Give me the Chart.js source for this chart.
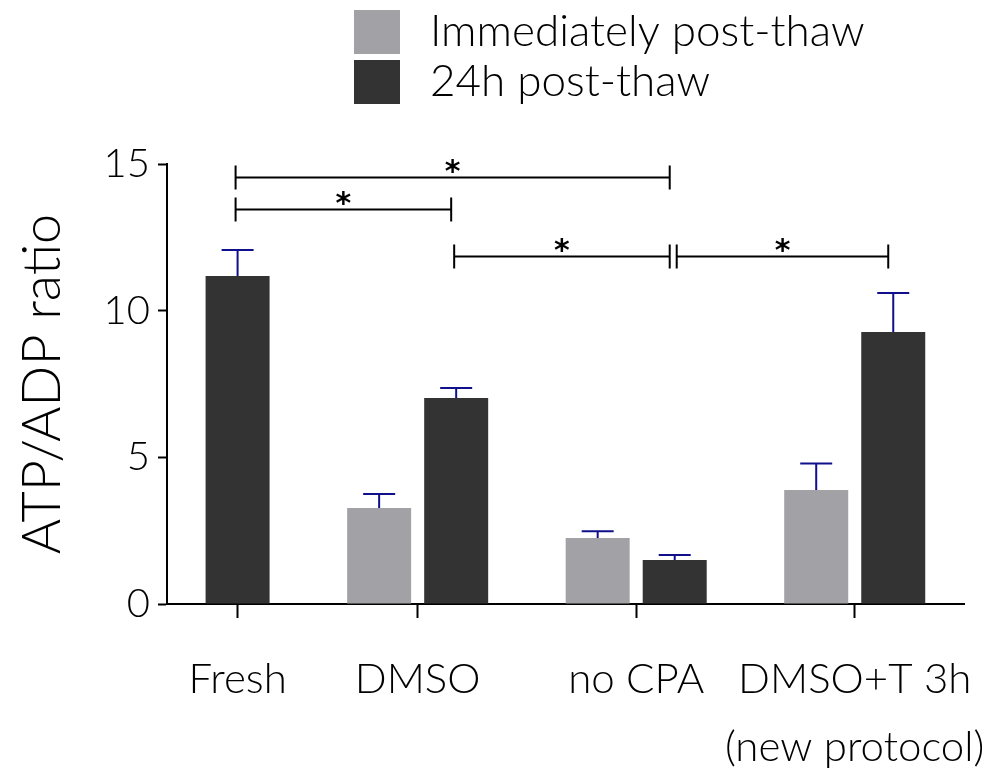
<!DOCTYPE html>
<html>
<head>
<meta charset="utf-8">
<script src="https://cdn.jsdelivr.net/npm/chart.js@4/dist/chart.umd.min.js"></script>
<style>
  html, body { margin: 0; padding: 0; background: #fff; }
</style>
</head>
<body>
<canvas id="atpChart" width="984" height="768"></canvas>
<script>
const groups = ['Fresh', 'DMSO', 'no CPA', ['DMSO+T 3h', '(new protocol)']];
// group centres on the x axis (Fresh sits closer, it only has one bar)
const groupX = [0.176, 1, 2, 3];
const seriesNames = ['Immediately post-thaw', '24h post-thaw'];
const immediate = [null, 3.27, 2.25, 3.89];
const immediateErr = [null, 0.48, 0.23, 0.90];
const after24h = [11.18, 7.02, 1.50, 9.27];
const after24hErr = [0.89, 0.34, 0.17, 1.33];
const yTicks = [0, 5, 10, 15];
// significance brackets between the 24h bars: [from group, to group, height]
const brackets = [[0, 2, 14.55], [0, 1, 13.47], [1, 2, 11.85], [2, 3, 11.85]];

const FONT = 'Lato';
const colors = ['#a2a2a6', '#333333'];

const errorBars = {
    id: 'errorBars',
    afterDatasetsDraw(chart) {
        const ctx = chart.ctx;
        const y = chart.scales.y;
        ctx.save();
        ctx.strokeStyle = '#10108c';
        ctx.lineWidth = 2;
        chart.data.datasets.forEach((ds, i) => {
            chart.getDatasetMeta(i).data.forEach((bar, j) => {
                const v = ds.data[j].y;
                if (v == null) return;
                const top = y.getPixelForValue(v + ds.errors[j]);
                ctx.beginPath();
                ctx.moveTo(bar.x, bar.y);
                ctx.lineTo(bar.x, top);
                ctx.moveTo(bar.x - 16, top);
                ctx.lineTo(bar.x + 16, top);
                ctx.stroke();
            });
        });
        ctx.restore();
    }
};

const sigBrackets = {
    id: 'sigBrackets',
    afterDraw(chart) {
        const ctx = chart.ctx;
        const y = chart.scales.y;
        const bars = chart.getDatasetMeta(1).data;
        ctx.save();
        ctx.strokeStyle = '#000';
        ctx.fillStyle = '#000';
        ctx.lineWidth = 2;
        ctx.font = 'bold 30px "DejaVu Sans"';
        ctx.textAlign = 'center';
        ctx.textBaseline = 'alphabetic';
        brackets.forEach(b => {
            const [a, c, level] = b;
            const joined = brackets.some(o => o !== b && o[1] === a && o[2] === level);
            const x1 = bars[a].x + (joined ? 2 : -2);
            const x2 = bars[c].x - 5;
            const py = Math.round(y.getPixelForValue(level)) + 0.5;
            ctx.beginPath();
            ctx.moveTo(x1, py);
            ctx.lineTo(x2, py);
            ctx.moveTo(x1, py - 12);
            ctx.lineTo(x1, py + 12);
            ctx.moveTo(x2, py - 12);
            ctx.lineTo(x2, py + 12);
            ctx.stroke();
            ctx.fillText('*', (x1 + x2) / 2, py + 3);
        });
        ctx.restore();
    }
};

const boxLegend = {
    id: 'boxLegend',
    afterDraw(chart) {
        const ctx = chart.ctx;
        ctx.save();
        ctx.font = '300 44px ' + FONT;
        ctx.textBaseline = 'middle';
        ctx.textAlign = 'left';
        chart.data.datasets.forEach((ds, i) => {
            const top = 10 + i * 50;
            ctx.fillStyle = ds.backgroundColor;
            ctx.fillRect(354, top, 46, 44);
            ctx.fillStyle = '#000';
            ctx.fillText(ds.label, 430, top + 22);
        });
        ctx.restore();
    }
};

function series(values) {
    return groupX.map((x, i) => ({ x: x, y: values[i] }));
}

new Chart(document.getElementById('atpChart'), {
    type: 'bar',
    data: {
        datasets: [{
            label: seriesNames[0],
            data: series(immediate),
            errors: immediateErr,
            backgroundColor: colors[0]
        }, {
            label: seriesNames[1],
            data: series(after24h),
            errors: after24hErr,
            backgroundColor: colors[1]
        }]
    },
    options: {
        responsive: false,
        animation: false,
        devicePixelRatio: 1,
        skipNull: true,
        categoryPercentage: 0.8556,
        barPercentage: 0.831,
        maxBarThickness: 64,
        layout: { padding: { top: 164, right: 20, bottom: 0, left: 0 } },
        plugins: {
            legend: { display: false },
            tooltip: { enabled: false }
        },
        scales: {
            x: {
                type: 'linear',
                min: -0.147,
                max: 3.5,
                offset: false,
                afterBuildTicks: s => { s.ticks = groupX.map(v => ({ value: v })); },
                afterFit: s => {
                    s.height = 164;
                    s.paddingLeft = 0;
                    s.paddingRight = 0;
                },
                grid: { offset: false, drawOnChartArea: false, tickLength: 14, tickWidth: 2, tickColor: '#000' },
                border: { color: '#000', width: 2 },
                ticks: {
                    autoSkip: false,
                    maxRotation: 0,
                    padding: 27,
                    color: '#000',
                    font: { family: FONT, size: 42, weight: '300', lineHeight: 1.62 },
                    callback: (v, i) => groups[i]
                }
            },
            y: {
                min: 0,
                max: 15,
                afterBuildTicks: s => { s.ticks = yTicks.map(v => ({ value: v })); },
                afterFit: s => {
                    s.width = 167;
                    s.paddingTop = 0;
                    s.paddingBottom = 0;
                },
                grid: { drawOnChartArea: false, tickLength: 9, tickWidth: 2, tickColor: '#000' },
                border: { color: '#000', width: 2 },
                ticks: {
                    padding: 8,
                    color: '#000',
                    font: { family: FONT, size: 40, weight: '300' }
                },
                title: {
                    display: true,
                    text: 'ATP/ADP ratio',
                    color: '#000',
                    padding: { top: 10, bottom: 0 },
                    font: { family: FONT, size: 54, weight: '300' }
                }
            }
        }
    },
    plugins: [errorBars, sigBrackets, boxLegend]
});
</script>
</body>
</html>
